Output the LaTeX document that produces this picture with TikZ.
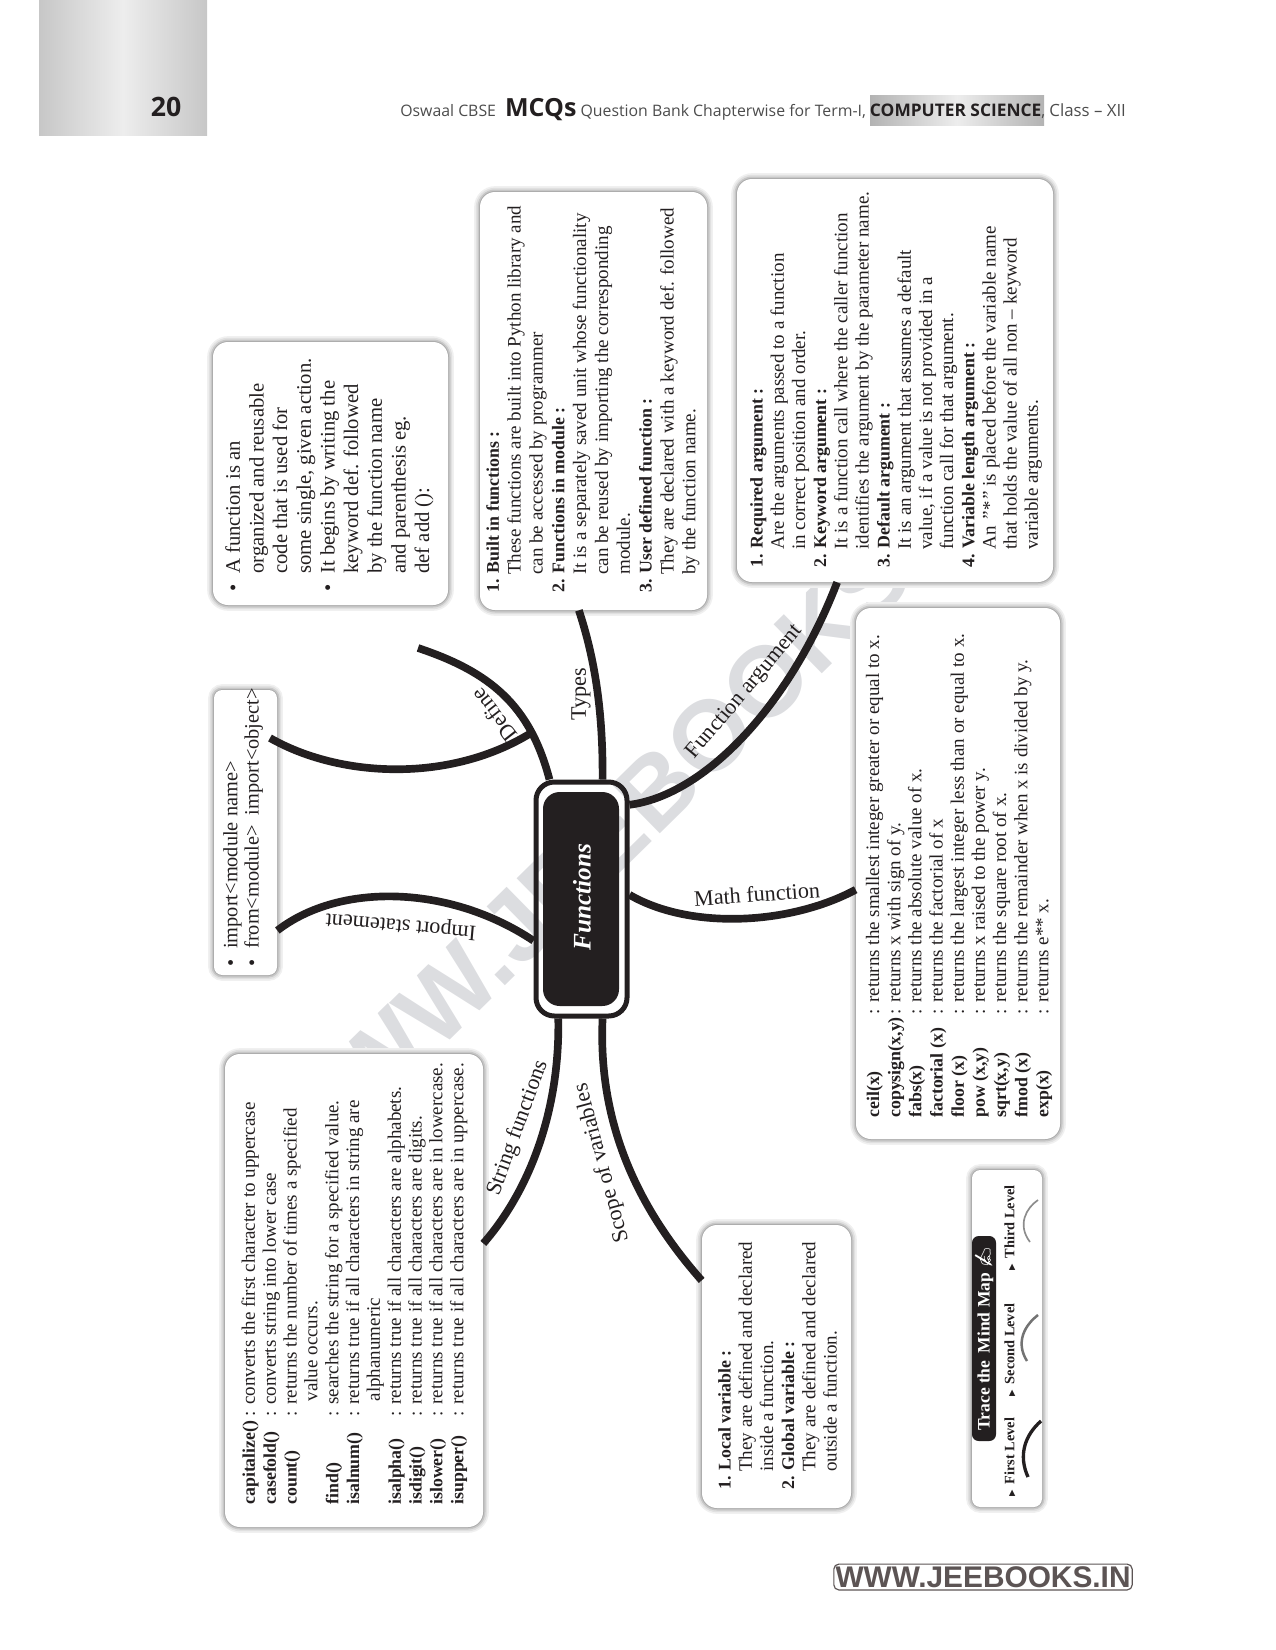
\documentclass[tikz,border=0pt]{standalone}
\usepackage{fontspec}
\setmainfont{Liberation Serif}
\newfontfamily\headfont{Open Sans}
\newfontfamily\markfont{Liberation Sans}
\newfontfamily\tipfont{DejaVu Sans}
\newfontfamily\emojifont{Noto Emoji}
\usetikzlibrary{fit,calc,positioning}
\definecolor{inkblack}{RGB}{35,31,32}
\definecolor{markgray}{RGB}{220,221,224}
\definecolor{footgray}{RGB}{92,84,84}
\newcommand{\itm}{\makebox[10.8pt][l]{\textbullet}}
\newcommand{\ind}{\hspace*{10.8pt}}
\newcommand{\hd}[1]{{\fontsize{10.7}{12.7}\selectfont\bfseries #1}}
\tikzset{
  infobox/.style={rounded corners=9pt,fill=white,inner sep=0pt,
    preaction={draw=black!6,line width=7pt,xshift=1.2pt},
    preaction={draw=black!12,line width=5pt,xshift=1.2pt},
    preaction={draw=black!22,line width=3pt,xshift=1.2pt},
    preaction={draw=black!32,line width=1.2pt,xshift=0.8pt}},
  bodytext/.style={rotate=90,anchor=north west,inner sep=0pt,align=left,text=inkblack,
    font=\fontsize{11.4}{12.7}\selectfont},
  bigtext/.style={bodytext,font=\fontsize{12.4}{14.2}\selectfont},
  branch/.style={draw=inkblack,line width=4.6pt},
  branchlabel/.style={inner sep=0pt,text=inkblack,font=\fontsize{13.3}{15}\selectfont},
  levellabel/.style={rotate=90,anchor=west,inner sep=0pt,text=inkblack,font=\fontsize{8.6}{10}\selectfont\bfseries},
}
\begin{document}
\begin{tikzpicture}[x=0.6pt,y=-0.6pt]
  \useasboundingbox (0,0) rectangle (1275,1650);
  % page head
  \shade[left color=black!22,right color=black!22,middle color=black!7] (39,0) rectangle (207,135);
  \shade[left color=black!30,right color=black!30,middle color=black!7] (870,96) rectangle (1044,125);
  \node[inner sep=0pt,font=\headfont\bfseries\fontsize{16}{18}\selectfont,text=inkblack] (pagenum) at (166,107) {20};
  \node[inner sep=0pt,anchor=base west,font=\headfont\fontsize{9.5}{12}\selectfont,text=black!70] (headline) at (400,116)
    {Oswaal CBSE\hspace{3pt} {\bfseries\fontsize{15}{15}\selectfont\color{inkblack}MCQs} Question Bank Chapterwise for Term-I, {\bfseries\fontsize{10.4}{12}\selectfont\color{inkblack}COMPUTER SCIENCE}, {\fontsize{10.1}{12}\selectfont Class – XII}};
  % watermark
  \node[rotate=44.5,inner sep=0pt,text=markgray,font=\markfont\bfseries\fontsize{60}{60}\selectfont] (watermark) at (631,814) {WWW.JEEBOOKS.IN};
  % boxes
  \node[infobox,fit={(213,342)(448,605)}] (definebox) {};
  \node[infobox,fit={(480,192)(707,610)}] (typesbox) {};
  \node[infobox,fit={(737,179)(1053,582)}] (argbox) {};
  \node[infobox,rounded corners=5pt,fit={(214,690)(277,975)}] (importbox) {};
  \node[infobox,fit={(856,608)(1060,1139)}] (mathbox) {};
  \node[infobox,fit={(225,1054)(483,1527)}] (stringbox) {};
  \node[infobox,fit={(702,1225)(851,1508)}] (scopebox) {};
  \node[infobox,rounded corners=5pt,fit={(972,1170)(1042,1507)}] (levelbox) {};
  % centre
  \node[draw=inkblack,line width=3pt,rounded corners=11pt,inner sep=0pt,fit={(536,782)(627,1016)}] (fnring) {};
  \node[fill=inkblack,rounded corners=10pt,inner sep=0pt,fit={(543,792)(619,1006)}] (fnbox) {};
  \node[rotate=90,text=white,inner sep=0pt,font=\fontsize{15.2}{18}\selectfont\bfseries\itshape] (fntext) at (582,897) {Functions};
  % free ends
  \coordinate (definetip) at (418,648);
  \coordinate (definejoin) at (531,733);
  \coordinate (importtip) at (270,738);
  % branches
  \draw[branch] (fnring.105) .. controls (530,705) and (490,672) .. (definetip);
  \draw[branch] (importtip) .. controls (340,778) and (450,783) .. (definejoin);
  \draw[branch] (typesbox.266) .. controls (597,665) and (603,720) .. (fnring.80);
  \draw[branch] (fnring.63) .. controls (705,795) and (790,705) .. (argbox.254);
  \draw[branch] (fnring.5) .. controls (690,930) and (790,925) .. (mathbox.189);
  \draw[branch] (importbox.288) .. controls (340,882) and (450,885) .. (fnring.221);
  \draw[branch] (fnring.259) .. controls (560,1110) and (530,1190) .. (stringbox.20);
  \draw[branch] (fnring.280) .. controls (598,1120) and (635,1205) .. (scopebox.131);
  % branch labels
  \node[branchlabel,rotate=128] (definelabel) at (494,715) {Define};
  \node[branchlabel,rotate=90] (typeslabel) at (581,694) {Types};
  \node[branchlabel,rotate=50] (arglabel) at (745,692) {Function argument};
  \node[branchlabel,rotate=4] (mathlabel) at (757,894) {Math function};
  \node[branchlabel,rotate=175] (importlabel) at (401,925) {Import statement};
  \node[branchlabel,rotate=70] (stringlabel) at (518,1128) {String functions};
  \node[branchlabel,rotate=105] (scopelabel) at (602,1163) {Scope of variables};
  % box texts
  \node[bigtext] (definetext) at (225,592) {\itm A function is an\\
    \ind organized and reusable\\ \ind code that is used for\\ \ind some single, given action.\\
    \itm It begins by writing the\\ \ind keyword def. followed\\ \ind by the function name\\
    \ind and parenthesis eg.\\ \ind def add ():};
  \node[bodytext,font=\fontsize{11.4}{13.1}\selectfont] (typestext) at (486,593) {\hd{1. Built in functions :}\\
    \ind These functions are built into Python library and\\ \ind can be accessed by programmer\\
    \hd{2. Functions in module :}\\ \ind It is a separately saved unit whose functionality\\
    \ind can be reused by importing the corresponding\\ \ind module.\\
    \hd{3. User defined function :}\\ \ind They are declared with a keyword def. followed\\
    \ind by the function name.};
  \node[bodytext] (argtext) at (750,568) {\hd{1. Required argument :}\\
    \ind Are the arguments passed to a function\\ \ind in correct position and order.\\
    \hd{2. Keyword argument :}\\ \ind It is a function call where the caller function\\
    \ind identifies the argument by the parameter name.\\
    \hd{3. Default argument :}\\ \ind It is an argument that assumes a default\\
    \ind value, if a value is not provided in a\\ \ind function call for that argument.\\
    \hd{4. Variable length argument :}\\ \ind An {\itshape "*"} is placed before the variable name\\
    \ind that holds the value of all non -- keyword\\ \ind variable arguments.};
  \node[bodytext,font=\fontsize{12.2}{12.7}\selectfont] (importtext) at (223,967) {\itm import<module name>\\ \itm from<module>\ \ import<object>};
  \node[bodytext] (mathtext) at (864,1118) {\setlength{\tabcolsep}{0pt}\begin{tabular}{@{}p{62pt}@{}l@{}}
    \hd{ceil(x)} & : returns the smallest integer greater or equal to x.\\
    \hd{copysign(x,y)} & : returns x with sign of y.\\
    \hd{fabs(x)} & : returns the absolute value of x.\\
    \hd{factorial (x)} & : returns the factorial of x\\
    \hd{floor (x)} & : returns the largest integer less than or equal to x.\\
    \hd{pow (x,y)} & : returns x raised to the power y.\\
    \hd{sqrt(x,y)} & : returns the square root of x.\\
    \hd{fmod (x)} & : returns the remainder when x is divided by y.\\
    \hd{exp(x)} & : returns e** x.
  \end{tabular}};
  \node[bodytext,font=\fontsize{11.4}{12.5}\selectfont] (stringtext) at (240,1505) {\setlength{\tabcolsep}{0pt}\begin{tabular}{@{}p{53pt}@{}l@{}}
    \hd{capitalize()} & : converts the first character to uppercase\\
    \hd{casefold()} & : converts string into lower case\\
    \hd{count()} & : returns the number of times a specified\\
    & \hspace*{9pt}value occurs.\\
    \hd{find()} & : searches the string for a specified value.\\
    \hd{isalnum()} & : returns true if all characters in string are\\
    & \hspace*{9pt}alphanumeric\\
    \hd{isalpha()} & : returns true if all characters are alphabets.\\
    \hd{isdigit()} & : returns true if all characters are digits.\\
    \hd{islower()} & : returns true if all characters are in lowercase.\\
    \hd{isupper()} & : returns true if all characters are in uppercase.
  \end{tabular}};
  \node[bodytext] (scopetext) at (718,1490) {\hd{1. Local variable :}\\
    \ind They are defined and declared\\ \ind inside a function.\\
    \hd{2. Global variable :}\\ \ind They are defined and declared\\ \ind outside a function.};
  % legend
  \node[fill=inkblack,rounded corners=4pt,inner sep=0pt,fit={(972,1236)(996,1441)}] (levelhead) {};
  \node[rotate=90,text=white,inner sep=0pt,font=\fontsize{10.5}{12}\selectfont\bfseries] (leveltitle) at (levelhead) {Trace the\, Mind Map {\emojifont\char"270D}};
  \node[levellabel] (firstlabel) at (1010,1497) {{\tipfont\fontsize{5}{6}\selectfont\char"25B6}\, First Level};
  \node[levellabel] (secondlabel) at (1010,1397) {{\tipfont\fontsize{5}{6}\selectfont\char"25B6}\, Second Level};
  \node[levellabel] (thirdlabel) at (1010,1271) {{\tipfont\fontsize{5}{6}\selectfont\char"25B6}\, Third Level};
  \draw[inkblack,line width=2pt] (1041,1421) .. controls (1025,1435) and (1018,1455) .. (1028,1477);
  \draw[black!55,line width=1.5pt] (1038,1315) .. controls (1025,1325) and (1015,1342) .. (1027,1361);
  \draw[black!45,line width=1pt] (1038,1200) .. controls (1026,1208) and (1017,1225) .. (1030,1242);
  % foot
  \node[draw=footgray,line width=0.7pt,rounded corners=3pt,inner sep=0pt,text=footgray,font=\markfont\bfseries\fontsize{17.9}{18}\selectfont,minimum width=179pt,minimum height=15.5pt] (footmark) at (983,1577) {WWW.JEEBOOKS.IN};
\end{tikzpicture}
\end{document}
